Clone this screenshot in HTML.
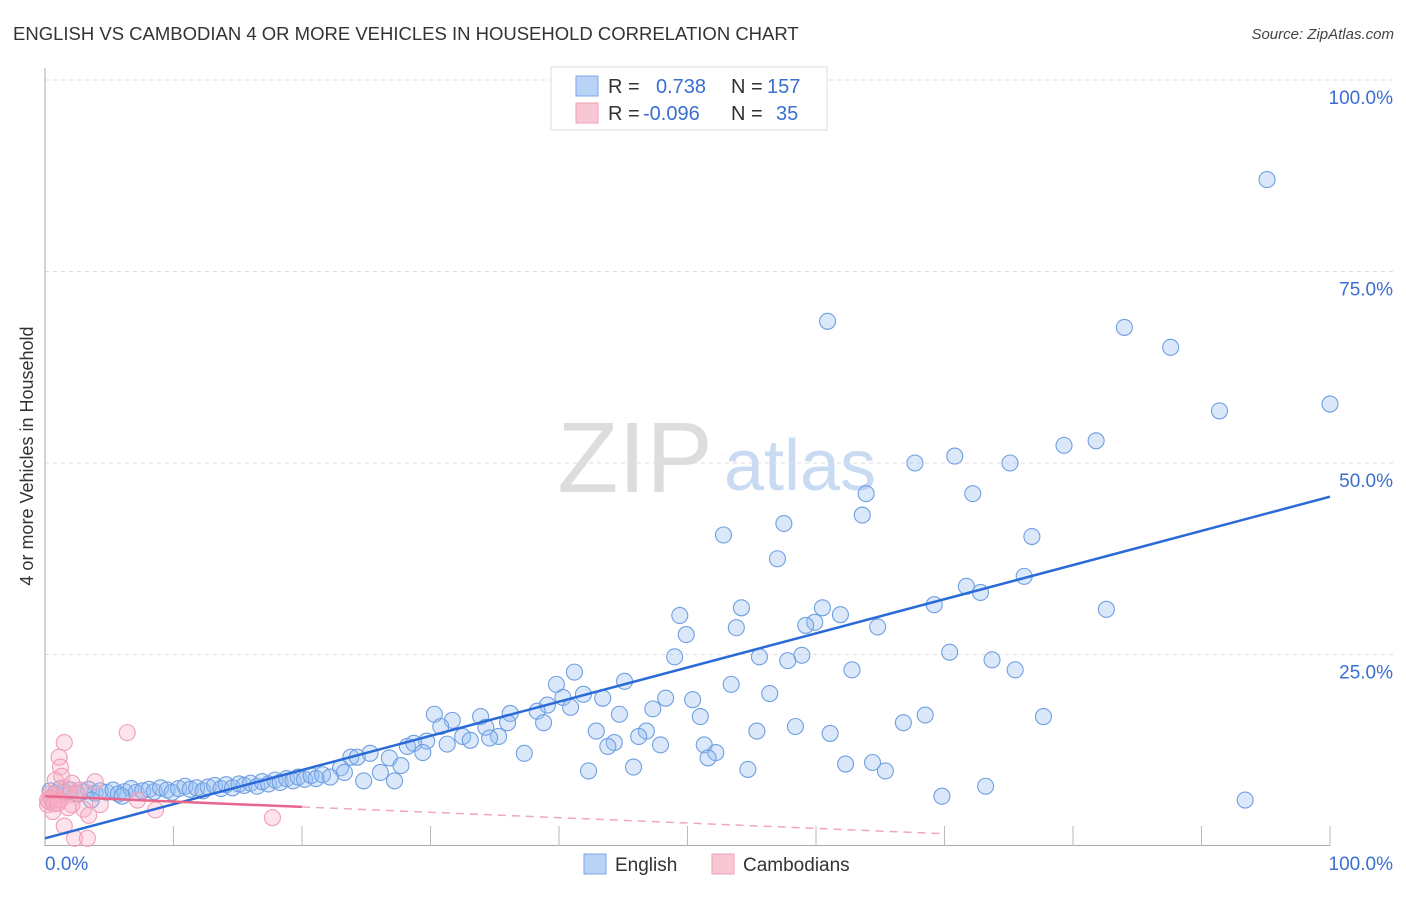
<!DOCTYPE html>
<html><head><meta charset="utf-8"><style>
body{margin:0;background:#fff;font-family:"Liberation Sans",sans-serif;}
svg text{font-family:"Liberation Sans",sans-serif;}
</style></head><body>
<svg id="chart" width="1406" height="892" viewBox="0 0 1406 892" xmlns="http://www.w3.org/2000/svg">
<text x="13" y="40" font-size="18.5" fill="#333">ENGLISH VS CAMBODIAN 4 OR MORE VEHICLES IN HOUSEHOLD CORRELATION CHART</text>
<text x="1394" y="39" font-size="15" fill="#444" text-anchor="end" font-style="italic">Source: ZipAtlas.com</text>
<text transform="translate(33,456) rotate(-90)" font-size="18" fill="#333" text-anchor="middle">4 or more Vehicles in Household</text>
<g>
<text x="635" y="492" font-size="100" fill="#ddd" text-anchor="middle" font-family="Liberation Serif">ZIP</text>
<text x="800" y="490" font-size="72" fill="#c9dbf3" text-anchor="middle">atlas</text>
</g>
<g id="grid"></g>
<g id="axes"></g>
<g id="trend"></g>
<g id="pts"></g>
<g>
<rect x="551" y="67" width="276" height="63" fill="#fff" stroke="#ddd"/>
<rect x="576" y="76" width="22" height="20" fill="#b8d3f6" stroke="#7aa7e6"/>
<rect x="576" y="103" width="22" height="20" fill="#f9c6d4" stroke="#eea3b9"/>
<text x="608" y="93" font-size="20" fill="#333">R =</text>
<text x="656" y="93" font-size="20" fill="#3a6fd0">0.738</text>
<text x="731" y="93" font-size="20" fill="#333">N =</text>
<text x="767" y="93" font-size="20" fill="#3a6fd0">157</text>
<text x="608" y="120" font-size="20" fill="#333">R =</text>
<text x="643" y="120" font-size="20" fill="#3a6fd0">-0.096</text>
<text x="731" y="120" font-size="20" fill="#333">N =</text>
<text x="776" y="120" font-size="20" fill="#3a6fd0">35</text>
</g>
<g>
<rect x="584" y="854" width="22" height="20" fill="#b8d3f6" stroke="#7aa7e6"/>
<text x="615" y="871" font-size="19" fill="#333">English</text>
<rect x="712" y="854" width="22" height="20" fill="#f9c6d4" stroke="#eea3b9"/>
<text x="743" y="871" font-size="19" fill="#333">Cambodians</text>
</g>
</svg>
<script>
const yTicks=[25,50,75,100];
const yTickLabels=["25.0%","50.0%","75.0%","100.0%"];
const xTickLabels=["0.0%","100.0%"];
const englishX=[95.1,60.9,84.0,87.6,91.4,100,79.3,81.8,70.8,67.7,75.1,63.9,72.2,63.6,57.5,52.8,76.8,57.0,76.2,71.7,72.8,69.2,60.5,54.2,82.6,49.4,61.9,59.9,59.2,64.8,49.9,53.8,70.4,73.7,58.9,55.6,57.8,49.0,62.8,75.5,41.2,45.1,53.4,39.8,41.9,43.4,40.3,56.4,50.4,48.3,39.1,40.9,47.3,38.3,36.2,44.7,51.0,77.7,68.5,66.8,30.3,31.7,33.9,30.8,38.8,34.3,42.9,55.4,58.4,36.0,46.8,46.2,61.1,32.5,33.1,35.3,34.6,29.7,31.3,28.2,28.7,44.3,43.8,47.9,51.3,52.2,51.6,23.8,24.3,25.3,26.8,29.4,37.3,27.7,23.0,23.3,26.1,24.8,27.2,42.3,45.8,54.7,62.3,64.4,65.4,69.8,73.2,93.4,
0.4,0.8,1.2,1.6,2.0,2.5,3.0,3.4,3.9,4.3,4.8,5.3,5.7,6.2,6.7,7.1,7.6,8.1,8.5,9.0,9.5,9.9,10.4,10.9,11.3,11.8,12.3,12.7,13.2,13.7,14.1,14.6,15.1,15.5,16.0,16.5,16.9,17.4,17.9,18.3,18.8,19.3,19.7,20.2,20.7,21.1,21.6,22.2,3.6,6.0];
const englishY=[87.0,68.5,67.7,65.1,56.8,57.7,52.3,52.9,50.9,50.0,50.0,46.0,46.0,43.2,42.1,40.6,40.4,37.5,35.2,33.9,33.1,31.5,31.1,31.1,30.9,30.1,30.2,29.2,28.8,28.6,27.6,28.5,25.3,24.3,24.9,24.7,24.2,24.7,23.0,23.0,22.7,21.5,21.1,21.1,19.8,19.3,19.4,19.9,19.1,19.3,18.4,18.1,17.9,17.6,17.3,17.2,16.9,16.9,17.1,16.1,17.2,16.4,16.9,15.6,16.1,15.5,15.0,15.0,15.6,16.1,15.0,14.3,14.7,14.3,13.8,14.3,14.1,13.7,13.3,13.0,13.4,13.5,13.0,13.2,13.2,12.2,11.5,11.6,11.6,12.1,11.5,12.2,12.1,10.5,10.2,9.6,9.6,8.5,8.5,9.8,10.3,10.0,10.7,10.9,9.8,6.5,7.8,6.0,
7.2,6.9,7.5,7.0,7.3,6.8,7.1,7.4,6.9,7.2,7.0,7.3,6.8,7.1,7.5,7.0,7.2,7.4,7.1,7.6,7.3,7.0,7.5,7.8,7.4,7.6,7.2,7.7,7.9,7.5,8.0,7.6,8.1,7.9,8.2,7.8,8.4,8.1,8.6,8.3,8.8,8.5,9.0,8.7,9.2,8.8,9.3,9.0,6.0,6.5];
const cambX=[1.5,6.4,1.1,1.2,0.8,1.6,1.3,2.1,3.9,2.7,1.9,0.9,0.4,0.2,0.6,1.5,2.3,3.3,0.8,0.4,0.2,3.0,3.4,8.6,17.7,7.2,4.3,2.1,1.2,1.8,0.3,0.5,0.7,1.0,2.5];
const cambY=[13.5,14.8,11.6,10.3,8.6,7.6,9.1,8.2,8.4,7.3,6.7,6.0,6.3,5.4,4.5,2.6,1.0,1.0,6.5,6.8,6.0,4.8,4.0,4.7,3.7,6.0,5.4,5.4,6.0,5.0,5.8,6.2,5.5,5.6,6.9];
const englishTrend=[1.0,45.6];
const cambTrend=[6.5,-0.5];
const cambSolidEnd=20;
const cambDashEnd=70;

const X0=45,X1=1330,Y0=846,Y1=80;
const sx=v=>X0+(X1-X0)*v/100;
const sy=v=>Y0-(Y0-Y1)*v/100;
const NS="http://www.w3.org/2000/svg";
function mk(tag,attrs,parent){const e=document.createElementNS(NS,tag);for(const k in attrs)e.setAttribute(k,attrs[k]);parent.appendChild(e);return e;}
const grid=document.getElementById('grid'),axes=document.getElementById('axes'),trend=document.getElementById('trend'),pts=document.getElementById('pts');
yTicks.forEach((t,i)=>{
  const l=mk('line',{x1:X0,x2:1394,y1:sy(t),y2:sy(t),stroke:'#ddd','stroke-dasharray':'4,4'},grid);
  
  
  const tx=mk('text',{x:1393,y:sy(t)+24,'font-size':19,fill:'#3a6fd0','text-anchor':'end'},grid);
  tx.textContent=yTickLabels[i];
  
  
});
const ax=mk('line',{x1:X0,x2:X0,y1:68,y2:846,stroke:'#aaa'},axes);


const bx=mk('line',{x1:X0,x2:X1,y1:845.5,y2:845.5,stroke:'#aaa'},axes);


for(let i=1;i<=10;i++){const t=mk('line',{x1:sx(i*10),x2:sx(i*10),y1:826,y2:846,stroke:'#bbb'},axes);

}
const xl0=mk('text',{x:45,y:870,'font-size':19,fill:'#3a6fd0'},axes);xl0.textContent=xTickLabels[0];


const xl1=mk('text',{x:1393,y:870,'font-size':19,fill:'#3a6fd0','text-anchor':'end'},axes);xl1.textContent=xTickLabels[1];


englishX.forEach((x,i)=>{const c=mk('circle',{cx:sx(x),cy:sy(englishY[i]),r:8,fill:'rgba(150,190,240,0.35)',stroke:'#6f9fe2','stroke-width':1.1},pts);

});
cambX.forEach((x,i)=>{const c=mk('circle',{cx:sx(x),cy:sy(cambY[i]),r:8,fill:'rgba(248,175,198,0.35)',stroke:'#eea0b8','stroke-width':1.1},pts);

});
const ct=v=>cambTrend[0]+(cambTrend[1]-cambTrend[0])*v/100;
const l1=mk('line',{x1:sx(0),y1:sy(englishTrend[0]),x2:sx(100),y2:sy(englishTrend[1]),stroke:'#2a6ad6','stroke-width':2.5},pts);


const l2=mk('line',{x1:sx(0),y1:sy(ct(0)),x2:sx(cambSolidEnd),y2:sy(ct(cambSolidEnd)),stroke:'#e8668c','stroke-width':2.5},pts);


const l3=mk('line',{x1:sx(cambSolidEnd),y1:sy(ct(cambSolidEnd)),x2:sx(cambDashEnd),y2:sy(ct(cambDashEnd)),stroke:'#f0a6bb','stroke-width':1.5,'stroke-dasharray':'8,6'},pts);


</script>
</body></html>
